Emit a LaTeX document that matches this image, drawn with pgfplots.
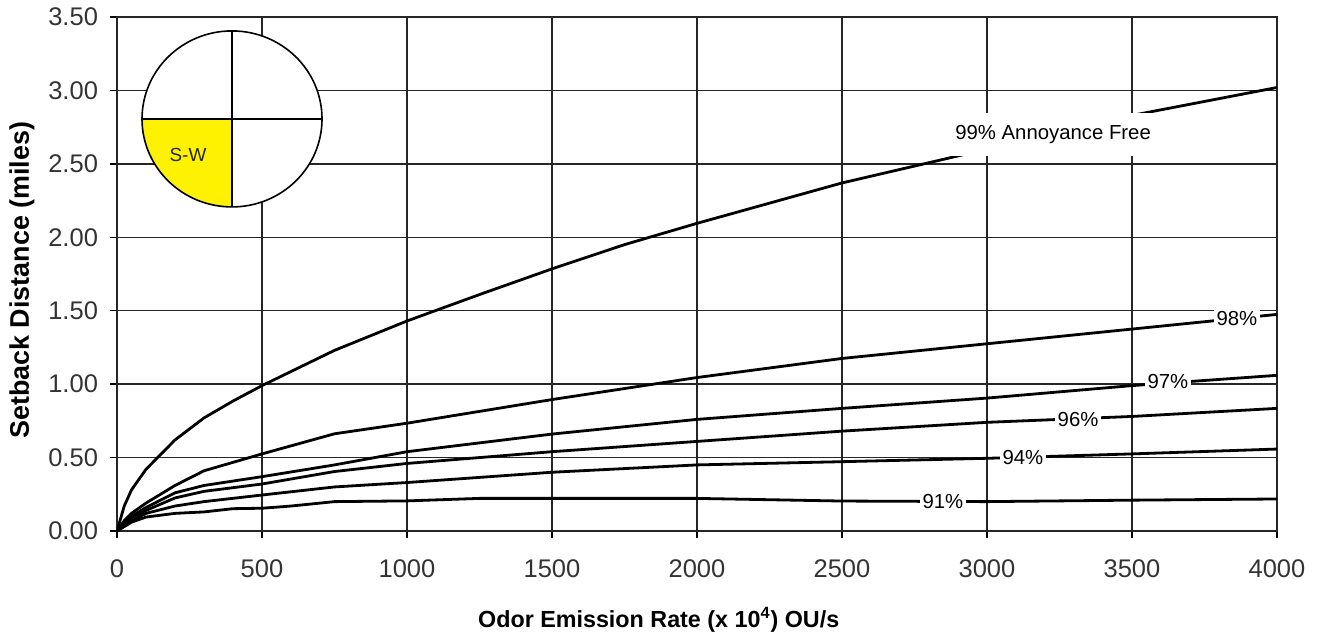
\documentclass[border=0pt]{standalone}
\usepackage{pgfplots}
\pgfplotsset{compat=1.18}
\usepackage{fontspec}
\setmainfont{Liberation Sans}

\begin{document}
\begin{tikzpicture}
\pgfplotsset{curve/.style={black, line width=1.4bp, mark=none}}
\begin{axis}[
 scale only axis, width=580bp, height=257bp,
 xmin=0,xmax=4000,ymin=0,ymax=3.5,
 xtick={0,500,1000,1500,2000,2500,3000,3500,4000},
 ytick={0,0.5,1,1.5,2,2.5,3,3.5},
 grid=major, major grid style={black!85,line width=0.7bp},
 axis line style={black!85, line width=0.8bp},
 tick style={black, line width=0.7bp},
 tick align=outside, tick pos=left, major tick length=3.5bp,
 /pgf/number format/assume math mode=true,
 ticklabel style={font=\fontsize{12.8}{15}\selectfont, text=black!80},
 xticklabel style={/pgf/number format/1000 sep={}, yshift=-7.5bp},
 yticklabel style={/pgf/number format/fixed, /pgf/number format/fixed zerofill, /pgf/number format/precision=2, xshift=-2.5bp},
 xlabel={Odor Emission Rate (x 10\textsuperscript{4}) OU/s},
 ylabel={Setback Distance (miles)},
 xlabel style={at={(axis description cs:0.467,-0.173)}, anchor=center, font=\fontsize{11.7}{13}\selectfont\bfseries},
 ylabel style={at={(axis description cs:-0.082,0.488)}, anchor=center, font=\fontsize{13.5}{15}\selectfont\bfseries},
]
% 99%
\addplot[curve] coordinates {(0,0) (25,0.17) (50,0.28) (100,0.42) (150,0.52) (200,0.62) (300,0.77) (400,0.885) (500,0.99) (750,1.23) (1000,1.43) (1250,1.61) (1500,1.785) (1750,1.95) (2000,2.095) (2500,2.37) (3000,2.60) (3500,2.83) (4000,3.02)};
% 98%
\addplot[curve] coordinates {(0,0) (25,0.07) (50,0.12) (100,0.19) (200,0.31) (300,0.41) (500,0.525) (750,0.662) (1000,0.734) (1500,0.895) (2000,1.045) (2500,1.175) (3000,1.275) (3500,1.375) (4000,1.475)};
% 97%
\addplot[curve] coordinates {(0,0) (50,0.10) (100,0.16) (200,0.26) (300,0.31) (500,0.37) (750,0.45) (1000,0.54) (1500,0.66) (2000,0.76) (2500,0.835) (3000,0.905) (3500,0.99) (4000,1.06)};
% 96%
\addplot[curve] coordinates {(0,0) (50,0.09) (100,0.14) (200,0.225) (300,0.27) (500,0.32) (750,0.405) (1000,0.46) (1500,0.54) (2000,0.61) (2500,0.68) (3000,0.74) (3500,0.78) (4000,0.835)};
% 94%
\addplot[curve] coordinates {(0,0) (50,0.07) (100,0.12) (200,0.17) (300,0.20) (500,0.245) (750,0.30) (1000,0.33) (1500,0.40) (2000,0.45) (2500,0.472) (3000,0.495) (3500,0.525) (4000,0.558)};
% 91%
\addplot[curve] coordinates {(0,0) (50,0.06) (100,0.095) (200,0.12) (300,0.13) (400,0.152) (500,0.155) (600,0.17) (750,0.20) (1000,0.205) (1250,0.222) (1500,0.222) (2000,0.222) (2500,0.204) (3000,0.20) (3500,0.21) (4000,0.218)};

\node[fill=white, inner xsep=5bp, inner ysep=6bp, font=\fontsize{10.2}{12}\selectfont] at (axis cs:3228,2.70) {99\% Annoyance Free};
\node[fill=white, inner sep=1.5bp, font=\fontsize{10.2}{12}\selectfont] at (axis cs:3862,1.444) {98\%};
\node[fill=white, inner sep=1.5bp, font=\fontsize{10.2}{12}\selectfont] at (axis cs:3624,1.017) {97\%};
\node[fill=white, inner sep=1.5bp, font=\fontsize{10.2}{12}\selectfont] at (axis cs:3314,0.756) {96\%};
\node[fill=white, inner sep=1.5bp, font=\fontsize{10.2}{12}\selectfont] at (axis cs:3124,0.50) {94\%};
\node[fill=white, inner sep=1.5bp, font=\fontsize{10.2}{12}\selectfont] at (axis cs:2848,0.198) {91\%};

\fill[white] (axis cs:396.6,2.806) ellipse [x radius=45bp, y radius=44bp];
\fill[yellow] (axis cs:396.6,2.806) -- ++(-45bp,0) arc[start angle=180,end angle=270,x radius=45bp,y radius=44bp] -- cycle;
\draw[line width=0.8bp] (axis cs:396.6,2.806) ellipse [x radius=45bp, y radius=44bp];
\draw[line width=0.8bp] (axis cs:396.6,2.806) ++(-45bp,0) -- ++(90bp,0);
\draw[line width=0.8bp] (axis cs:396.6,2.806) ++(0,-44bp) -- ++(0,88bp);
\node[font=\fontsize{9.5}{11}\selectfont, text=black!85] at (axis cs:244.8,2.561) {S-W};
\end{axis}
\pgfresetboundingbox
\path (-58.5bp,-52bp) rectangle (603bp,265.5bp);
\end{tikzpicture}
\end{document}
